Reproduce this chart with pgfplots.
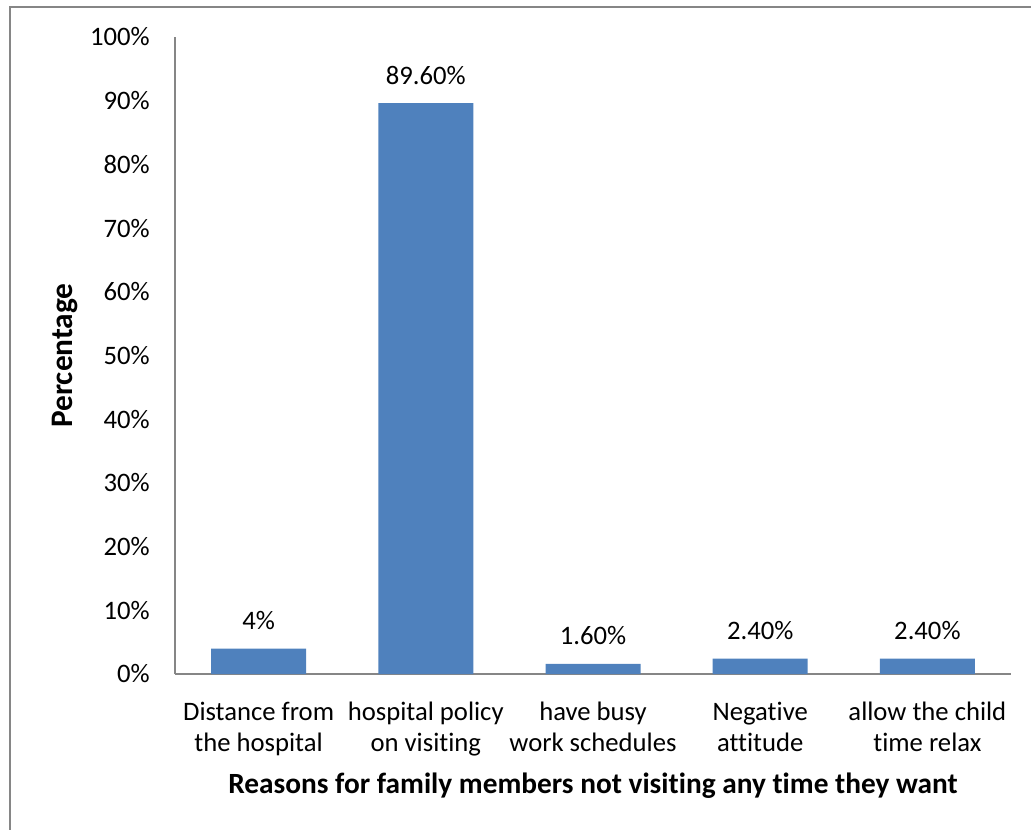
\documentclass[border=0pt]{standalone}
\usepackage{pgfplots}
\pgfplotsset{compat=1.18}
\usepackage{pgfplotstable}
\usepackage{fontspec}
\setmainfont{Carlito}[Ligatures=NoCommon]
\definecolor{barblue}{RGB}{79,129,189}
\definecolor{axgray}{RGB}{134,134,134}
\pgfplotstableread{
x y lab
0 4 4\%
1 89.6 89.60\%
2 1.6 1.60\%
3 2.4 2.40\%
4 2.4 2.40\%
}\datatable
\begin{document}
\begin{tikzpicture}
\path[use as bounding box] (-131.25pt,-116.25pt) rectangle (642pt,505.5pt);
\draw[axgray, line width=1pt] (-123.75pt,-120pt) -- (-123.75pt,500.25pt) -- (650pt,500.25pt);
\begin{axis}[
  scale only axis,
  width=627pt, height=477.75pt,
  xmin=-0.5, xmax=4.5,
  ymin=0, ymax=100,
  axis x line*=bottom, axis y line*=left,
  axis line style={axgray, line width=0.9pt, -},
  major tick length=0pt,
  ytick={0,10,...,100},
  yticklabel={\pgfmathprintnumber{\tick}\%},
  xtick=data,
  xticklabels={{Distance from\\the hospital},{hospital policy\\on visiting},{have busy\\work schedules},{Negative\\attitude},{allow the child\\time relax}},
  /pgf/number format/assume math mode=true,
  tick label style={font=\fontsize{20}{23}\selectfont, inner sep=0pt},
  yticklabel style={anchor=east, xshift=-18.75pt},
  xticklabel style={align=center, anchor=north, yshift=-21pt},
  xlabel={Reasons for family members not visiting any time they want},
  ylabel={Percentage},
  xlabel style={font=\fontsize{22}{26}\selectfont\bfseries, at={(axis description cs:0.5,0)}, anchor=base, yshift=-89.25pt, inner sep=0pt},
  ylabel style={font=\fontsize{23.5}{27}\selectfont\bfseries, at={(axis description cs:-0.1316,0.5)}, anchor=center, rotate=0, inner sep=0pt},
  ybar, bar width=71.25pt,
  nodes near coords,
  point meta=explicit symbolic,
  nodes near coords style={font=\fontsize{20}{23}\selectfont, anchor=south, inner sep=0pt, yshift=14pt, text=black},
  clip=false,
]
\addplot[fill=barblue, draw=none] table[x=x, y=y, meta=lab] {\datatable};
\end{axis}
\end{tikzpicture}
\end{document}
